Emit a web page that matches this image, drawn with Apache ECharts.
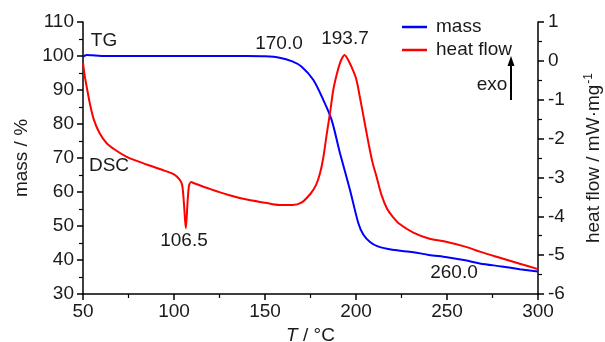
<!DOCTYPE html>
<html>
<head>
<meta charset="utf-8">
<script src="https://cdn.jsdelivr.net/npm/echarts@6/dist/echarts.min.js"></script>
<style>html,body{margin:0;padding:0;background:#fff}#c{width:605px;height:342px}</style>
</head>
<body>
<div id="c"></div>
<script>
const massTemps = [50, 52, 55, 60, 80, 100, 120, 140, 150, 158, 165, 170, 176.5, 182, 186.6, 191.2, 196.7, 201.3, 204, 207.7, 212, 220, 231.5, 240, 250, 260, 268, 280, 290, 300];
const massValues = [99.8, 100.3, 100.2, 100.0, 100.0, 100.0, 100.0, 100.0, 99.9, 99.5, 98.4, 96.9, 93.0, 87.1, 81.2, 71.4, 60.6, 50.8, 47.5, 45.3, 44.0, 43.0, 42.3, 41.5, 40.8, 39.9, 39.0, 38.1, 37.3, 36.6];
const heatTemps = [50, 51, 52, 54, 56, 59, 63, 68, 74, 81, 87, 95, 100, 103, 104.5, 105.5, 106.5, 107.5, 108.3, 109.5, 111, 120, 130, 140, 150, 158, 165, 170, 175, 178, 180.2, 182, 184, 186, 187.5, 189.4, 191.2, 192.6, 193.7, 195, 197, 200, 202.2, 205, 207, 209, 211.4, 214, 217, 220, 224, 231.5, 240, 250, 260, 268, 280, 290, 300];
const heatValues = [-0.05, -0.4, -0.66, -1.15, -1.52, -1.85, -2.12, -2.30, -2.47, -2.60, -2.70, -2.83, -2.92, -3.05, -3.2, -3.7, -4.31, -3.6, -3.2, -3.12, -3.15, -3.30, -3.45, -3.57, -3.65, -3.71, -3.71, -3.65, -3.42, -3.2, -2.9, -2.5, -1.86, -1.25, -0.75, -0.35, -0.06, 0.09, 0.15, 0.08, -0.1, -0.45, -0.95, -1.65, -2.15, -2.6, -3.0, -3.45, -3.8, -4.0, -4.2, -4.42, -4.57, -4.66, -4.78, -4.91, -5.08, -5.22, -5.36];
const xTicks = {min: 50, max: 300, interval: 50};
const massTicks = {min: 30, max: 110, interval: 10};
const heatTicks = {min: -6, max: 1, interval: 1};
const annotations = [
  {text: 'TG', x: 104, y: 41},
  {text: 'DSC', x: 109, y: 166},
  {text: '106.5', x: 184, y: 241},
  {text: '170.0', x: 279, y: 44},
  {text: '193.7', x: 345, y: 39},
  {text: '260.0', x: 454, y: 273}
];

const FONT = "'Liberation Sans', Arial, sans-serif";
const TXT = '#1a1a1a';
const FS = 19;

function zip(a, b) { return a.map((v, i) => [v, b[i]]); }

const axisCommon = {
  axisLine: {show: true, onZero: false, lineStyle: {color: '#000', width: 1.5}},
  axisTick: {show: true, length: 6, lineStyle: {color: '#000', width: 1.5}},
  minorTick: {show: true, splitNumber: 2, length: 4, lineStyle: {color: '#000', width: 1.2}},
  splitLine: {show: false},
  axisLabel: {color: TXT, fontFamily: FONT, fontSize: FS},
  nameTextStyle: {color: TXT, fontFamily: FONT, fontSize: FS}
};

const chart = echarts.init(document.getElementById('c'), null, {renderer: 'canvas'});
chart.setOption({
  animation: false,
  backgroundColor: '#fff',
  grid: {left: 83, right: 67, top: 22, bottom: 48, containLabel: false, outerBoundsMode: 'none'},
  legend: {
    orient: 'vertical', left: 397, top: 12,
    itemWidth: 25, itemHeight: 2.5, itemGap: 3, icon: 'rect',
    textStyle: {color: TXT, fontFamily: FONT, fontSize: FS, lineHeight: 20, padding: [0, 0, 0, 4]},
    data: ['mass', 'heat flow']
  },
  xAxis: Object.assign({}, axisCommon, {
    type: 'value', min: xTicks.min, max: xTicks.max, interval: xTicks.interval,
    axisLabel: Object.assign({}, axisCommon.axisLabel, {margin: 8}),
    name: '{i|T}{n| / °C}', nameLocation: 'middle', nameGap: 31,
    nameTextStyle: {rich: {
      i: {fontFamily: FONT, fontSize: FS, fontStyle: 'italic', color: TXT},
      n: {fontFamily: FONT, fontSize: FS, color: TXT}
    }}
  }),
  yAxis: [
    Object.assign({}, axisCommon, {
      type: 'value', min: massTicks.min, max: massTicks.max, interval: massTicks.interval,
      position: 'left',
      axisLabel: Object.assign({}, axisCommon.axisLabel, {margin: 9}),
      name: 'mass / %', nameLocation: 'middle', nameGap: 50, nameRotate: 90
    }),
    Object.assign({}, axisCommon, {
      type: 'value', min: heatTicks.min, max: heatTicks.max, interval: heatTicks.interval,
      position: 'right',
      axisLabel: Object.assign({}, axisCommon.axisLabel, {margin: 10}),
      name: '{a|heat flow / mW·mg}{s|-1}', nameLocation: 'middle', nameGap: 45, nameRotate: 90,
      nameTextStyle: {rich: {
        a: {fontFamily: FONT, fontSize: FS, color: TXT},
        s: {fontFamily: FONT, fontSize: 12, color: TXT, verticalAlign: 'top', padding: [0, 0, 10, 1]}
      }}
    })
  ],
  series: [
    {name: 'mass', type: 'line', yAxisIndex: 0, data: zip(massTemps, massValues),
      showSymbol: false, smooth: 0.3, lineStyle: {color: '#0000ff', width: 2}, itemStyle: {color: '#0000ff'}},
    {name: 'heat flow', type: 'line', yAxisIndex: 1, data: zip(heatTemps, heatValues),
      showSymbol: false, smooth: 0.3, lineStyle: {color: '#ff0000', width: 2}, itemStyle: {color: '#ff0000'}}
  ],
  graphic: annotations.map(a => ({
    type: 'text', x: a.x, y: a.y,
    style: {text: a.text, fill: TXT, font: FS + 'px ' + FONT, textAlign: 'center', textVerticalAlign: 'middle'}
  })).concat([
    {type: 'text', x: 492, y: 85, style: {text: 'exo', fill: TXT, font: FS + 'px ' + FONT, textAlign: 'center', textVerticalAlign: 'middle'}},
    {type: 'line', shape: {x1: 511, y1: 100, x2: 511, y2: 64}, style: {stroke: '#000', lineWidth: 2}},
    {type: 'polygon', shape: {points: [[511, 56], [507.5, 66], [514.5, 66]]}, style: {fill: '#000'}}
  ])
});
</script>
</body>
</html>
